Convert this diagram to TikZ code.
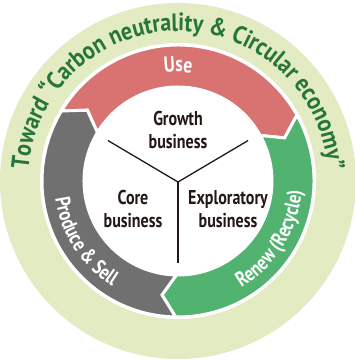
\documentclass[tikz,border=0pt]{standalone}
\usepackage{fontspec}
\setmainfont{PT Sans}[FakeStretch=0.8]
\newfontfamily\titlefont{PT Sans}[FakeStretch=0.88]
\usepackage{tikz}
\usetikzlibrary{positioning}
\usetikzlibrary{decorations.text}
\definecolor{ringgreen}{RGB}{226,235,194}
\definecolor{titlegreen}{RGB}{38,118,58}
\definecolor{usered}{RGB}{217,115,114}
\definecolor{renewgreen}{RGB}{82,178,112}
\definecolor{producegray}{RGB}{112,112,112}
\definecolor{ink}{RGB}{35,24,21}
\tikzset{bizlabel/.style = {align = center, inner sep = 0, text = ink, font = \bfseries\fontsize{20}{23}\selectfont}}
\tikzset{yarm/.style = {draw = ink, line width = 1.3}}
\newcommand{\bandseg}[3]{\filldraw [fill = #3, draw = white, line width = 3]
  (#1:136) arc [start angle = #1, end angle = #2, radius = 136] -- ({#2-7}:115)
  -- (#2:94) arc [start angle = #2, end angle = #1, radius = 94] -- ({#1-7}:115) -- cycle;}

\begin{document}
\begin{tikzpicture}[x = 1pt, y = 1pt]
    \fill [white] (-178, -179) rectangle (177, 181);
    \useasboundingbox (-178, -179) rectangle (177, 181);
    \fill [ringgreen] (0, 0) circle [radius = 178];
    \fill [white] (0, 0) circle [radius = 138];
    \bandseg{149}{29}{usered}
    \bandseg{29}{-91}{renewgreen}
    \bandseg{-91}{-211}{producegray}
    \path [decorate, decoration = {text along path, text align = center,
      text = {|\color{titlegreen}\titlefont\bfseries\fontsize{25}{25}\selectfont|Toward “Carbon neutrality {\&} Circular economy”}}]
      (184:150) arc [start angle = 184, end angle = -4, radius = 150];
    \path [decorate, decoration = {text along path, text align = center,
      text = {|\color{white}\bfseries\fontsize{22}{22}\selectfont|Use}}]
      (140:109) arc [start angle = 140, end angle = 40, radius = 109];
    \path [decorate, decoration = {text along path, text align = center,
      text = {|\color{white}\bfseries\fontsize{21}{21}\selectfont|Renew (Recycle)}}]
      (-70:124) arc [start angle = -70, end angle = 6, radius = 124];
    \path [decorate, decoration = {text along path, text align = center,
      text = {|\color{white}\bfseries\fontsize{21}{21}\selectfont|Produce {\&} Sell}}]
      (175:124) arc [start angle = 175, end angle = 251, radius = 124];
    \coordinate (hub) at (0, -1);
    \coordinate (armgrowl) at (150:81);
    \coordinate (armgrowr) at (30:81);
    \coordinate (armdown) at (0, -82);
    \draw [yarm] (armgrowl) -- (hub) -- (armgrowr);
    \draw [yarm] (hub) -- (armdown);
    \node [bizlabel] (growth) at (0, 51) {Growth\\business};
    \node [bizlabel] (core) at (-45, -28) {Core\\business};
    \node [bizlabel] (explore) at (50, -28) {Exploratory\\business};
  \end{tikzpicture}
\end{document}
